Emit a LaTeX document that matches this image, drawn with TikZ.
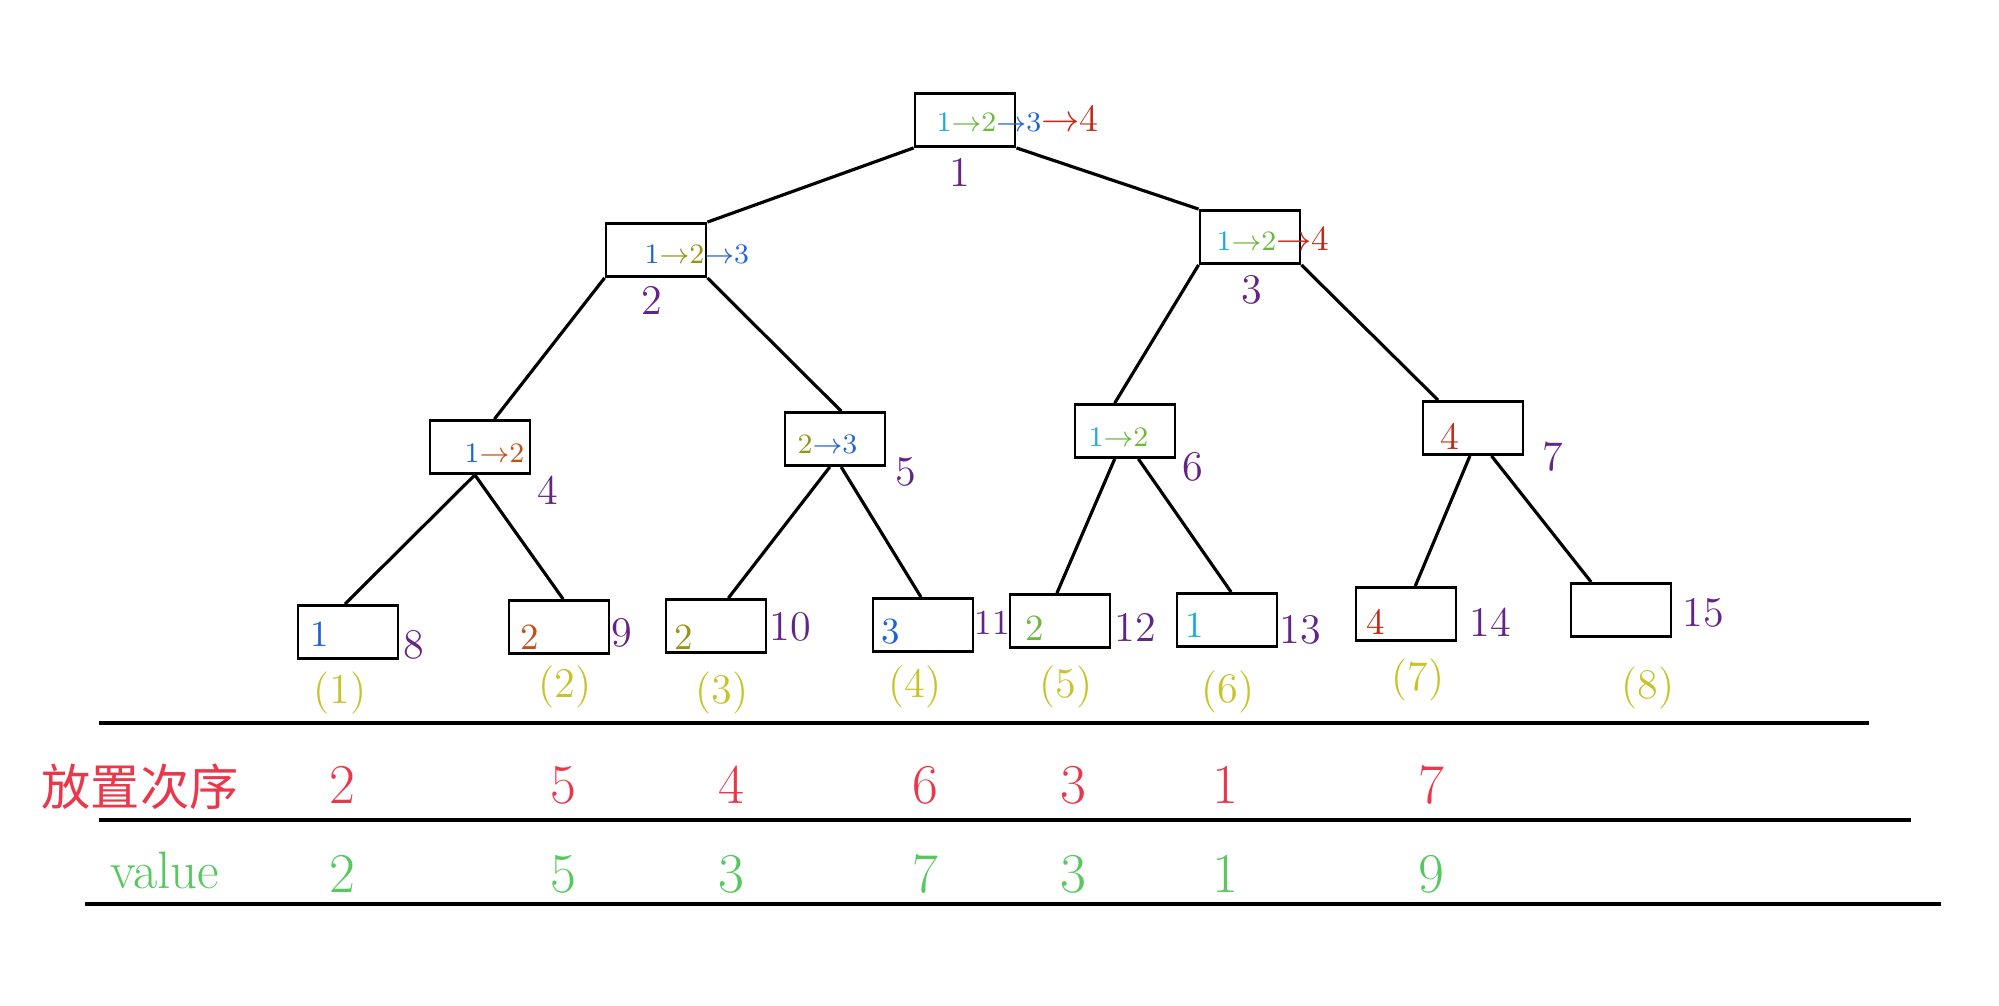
\documentclass[tikz,border=0pt]{standalone}
\usepackage{fontspec}
\newfontfamily\cjk{Noto Sans CJK SC}
\usetikzlibrary{calc}

\definecolor{cyanpen}{RGB}{25,170,230}
\definecolor{greenpen}{RGB}{110,185,60}
\definecolor{bluepen}{RGB}{30,100,215}
\definecolor{redpen}{RGB}{195,40,20}
\definecolor{olivepen}{RGB}{150,150,20}
\definecolor{brownpen}{RGB}{195,80,25}
\definecolor{purplepen}{RGB}{100,35,135}
\definecolor{yellowpen}{RGB}{200,195,40}
\definecolor{rowred}{RGB}{235,55,75}
\definecolor{rowgreen}{RGB}{85,200,95}

% arrow followed by the next number, both in one pen colour
\newcommand{\nxt}[2]{\textcolor{#1}{$\to$#2}}

\tikzset{
  box/.style={draw, line width=0.8pt, minimum width=1cm, minimum height=0.53cm, inner sep=0pt},
  inbox/.style={inner sep=0pt, font=\fontsize{8}{10}\selectfont},
  leafnum/.style={inner sep=0pt, font=\fontsize{10.5}{12}\selectfont},
  idx/.style={text=purplepen, font=\fontsize{12}{14}\selectfont},
  order/.style={text=yellowpen, font=\fontsize{12}{14}\selectfont},
  cell/.style={font=\fontsize{16}{18}\selectfont},
}

\begin{document}
\begin{tikzpicture}[x=0.01cm, y=-0.01cm, line width=0.9pt]

    \useasboundingbox (0,0) rectangle (1999,1005);

    % Boxes of the tree
    \node[box] (n1) at (965,120) {};
    \node[box] (n2) at (656,250) {};
    \node[box] (n3) at (1250,237) {};
    \node[box] (n4) at (480,447) {};
    \node[box] (n5) at (835,439) {};
    \node[box] (n6) at (1125,431) {};
    \node[box] (n7) at (1473,428) {};
    \foreach \name/\x/\y in {l8/348/632, l9/559/627, l10/716/626, l11/923/625,
                             l12/1060/621, l13/1227/620, l14/1406/614, l15/1621/610}
    \node[box] (\name) at (\x,\y) {};

    % Edges
    \draw (n1.south west) -- (n2.north east);
    \draw (n1.south east) -- (n3.north west);
    \draw (n2.south west) -- ($(n4.north west)!.64!(n4.north east)$);
    \draw (n2.south east) -- ($(n5.north west)!.56!(n5.north east)$);
    \draw (n3.south west) -- ($(n6.north west)!.40!(n6.north east)$);
    \draw (n3.south east) -- ($(n7.north west)!.16!(n7.north east)$);
    \draw ($(n4.south west)!.45!(n4.south east)$) -- ($(l8.north west)!.47!(l8.north east)$);
    \draw ($(n4.south west)!.45!(n4.south east)$) -- ($(l9.north west)!.54!(l9.north east)$);
    \draw ($(n5.south west)!.45!(n5.south east)$) -- ($(l10.north west)!.62!(l10.north east)$);
    \draw ($(n5.south west)!.56!(n5.south east)$) -- ($(l11.north west)!.48!(l11.north east)$);
    \draw ($(n6.south west)!.40!(n6.south east)$) -- ($(l12.north west)!.47!(l12.north east)$);
    \draw ($(n6.south west)!.63!(n6.south east)$) -- ($(l13.north west)!.54!(l13.north east)$);
    \draw ($(n7.south west)!.47!(n7.south east)$) -- ($(l14.north west)!.59!(l14.north east)$);
    \draw ($(n7.south west)!.68!(n7.south east)$) -- ($(l15.north west)!.21!(l15.north east)$);

    % What each box holds
    \node[inbox, anchor=base west] (c1) at (935,131)
    {\textcolor{cyanpen}{1}\nxt{greenpen}{2}\nxt{bluepen}{3}{\fontsize{11}{13}\selectfont\nxt{redpen}{4}}};
    \node[inbox, anchor=base west] (c2) at (643,263)
    {\textcolor{bluepen}{1}\nxt{olivepen}{2}\nxt{bluepen}{3}};
    \node[inbox, anchor=base west] (c3) at (1215,250)
    {\textcolor{cyanpen}{1}\nxt{greenpen}{2}{\fontsize{10}{12}\selectfont\nxt{redpen}{4}}};
    \node[inbox, anchor=base west] (c4) at (463,462)
    {\textcolor{bluepen}{1}\nxt{brownpen}{2}};
    \node[inbox, anchor=base west] (c5) at (796,453)
    {\textcolor{olivepen}{2}\nxt{bluepen}{3}};
    \node[inbox, anchor=base west] (c6) at (1087,446)
    {\textcolor{cyanpen}{1}\nxt{greenpen}{2}};
    \node[inbox, anchor=base west, font=\fontsize{11}{13}\selectfont, text=redpen] (c7) at (1439,449) {4};
    \node[leafnum, text=bluepen] (c8) at (320,634) {1};
    \node[leafnum, text=brownpen] (c9) at (530,637) {2};
    \node[leafnum, text=olivepen] (c10) at (684,637) {2};
    \node[leafnum, text=bluepen] (c11) at (891,632) {3};
    \node[leafnum, text=greenpen] (c12) at (1035,628) {2};
    \node[leafnum, text=cyanpen] (c13) at (1195,625) {1};
    \node[leafnum, text=redpen] (c14) at (1376,622) {4};

    % Box numbers
    \foreach \name/\x/\y/\t in {k1/960/172/1, k2/652/300/2, k3/1252/290/3, k4/548/490/4,
                                k5/906/472/5, k6/1193/467/6, k7/1553/457/7, k8/414/645/8,
                                k9/622/633/9, k10/790/627/10, k12/1135/627/12,
                                k13/1300/630/13, k14/1490/622/14, k15/1703/613/15}
    \node[idx] (\name) at (\x,\y) {\t};
    \node[idx, font=\fontsize{10}{12}\selectfont] (k11) at (992,623) {11};

    % Leaf order below the boxes
    \foreach \name/\x/\y/\t in {p1/340/693/1, p2/565/687/2, p3/722/693/3, p4/915/687/4,
                                p5/1066/687/5, p6/1228/692/6, p7/1418/680/7, p8/1648/688/8}
    \node[order] (\name) at (\x,\y) {(\t)};

    % Table rules
    \draw[line width=1.3pt] (99,723) -- (1869,723);
    \draw[line width=1.3pt] (99,820) -- (1911,820);
    \draw[line width=1.3pt] (85,904) -- (1941,904);

    % Row titles
    \node[text=rowred, font=\cjk\fontsize{14}{16}\selectfont] (r1) at (140,787) {放置次序};
    \node[text=rowgreen, font=\fontsize{15}{17}\selectfont] (r2) at (165,870) {value};

    % Placing order and values
    \foreach \x/\a/\b [count=\i] in {342/2/2, 563/5/5, 731/4/3, 925/6/7,
                                     1073/3/3, 1225/1/1, 1431/7/9} {
      \node[cell, text=rowred] (a\i) at (\x,785) {\a};
      \node[cell, text=rowgreen] (b\i) at (\x,874) {\b};
    }

  \end{tikzpicture}
\end{document}
